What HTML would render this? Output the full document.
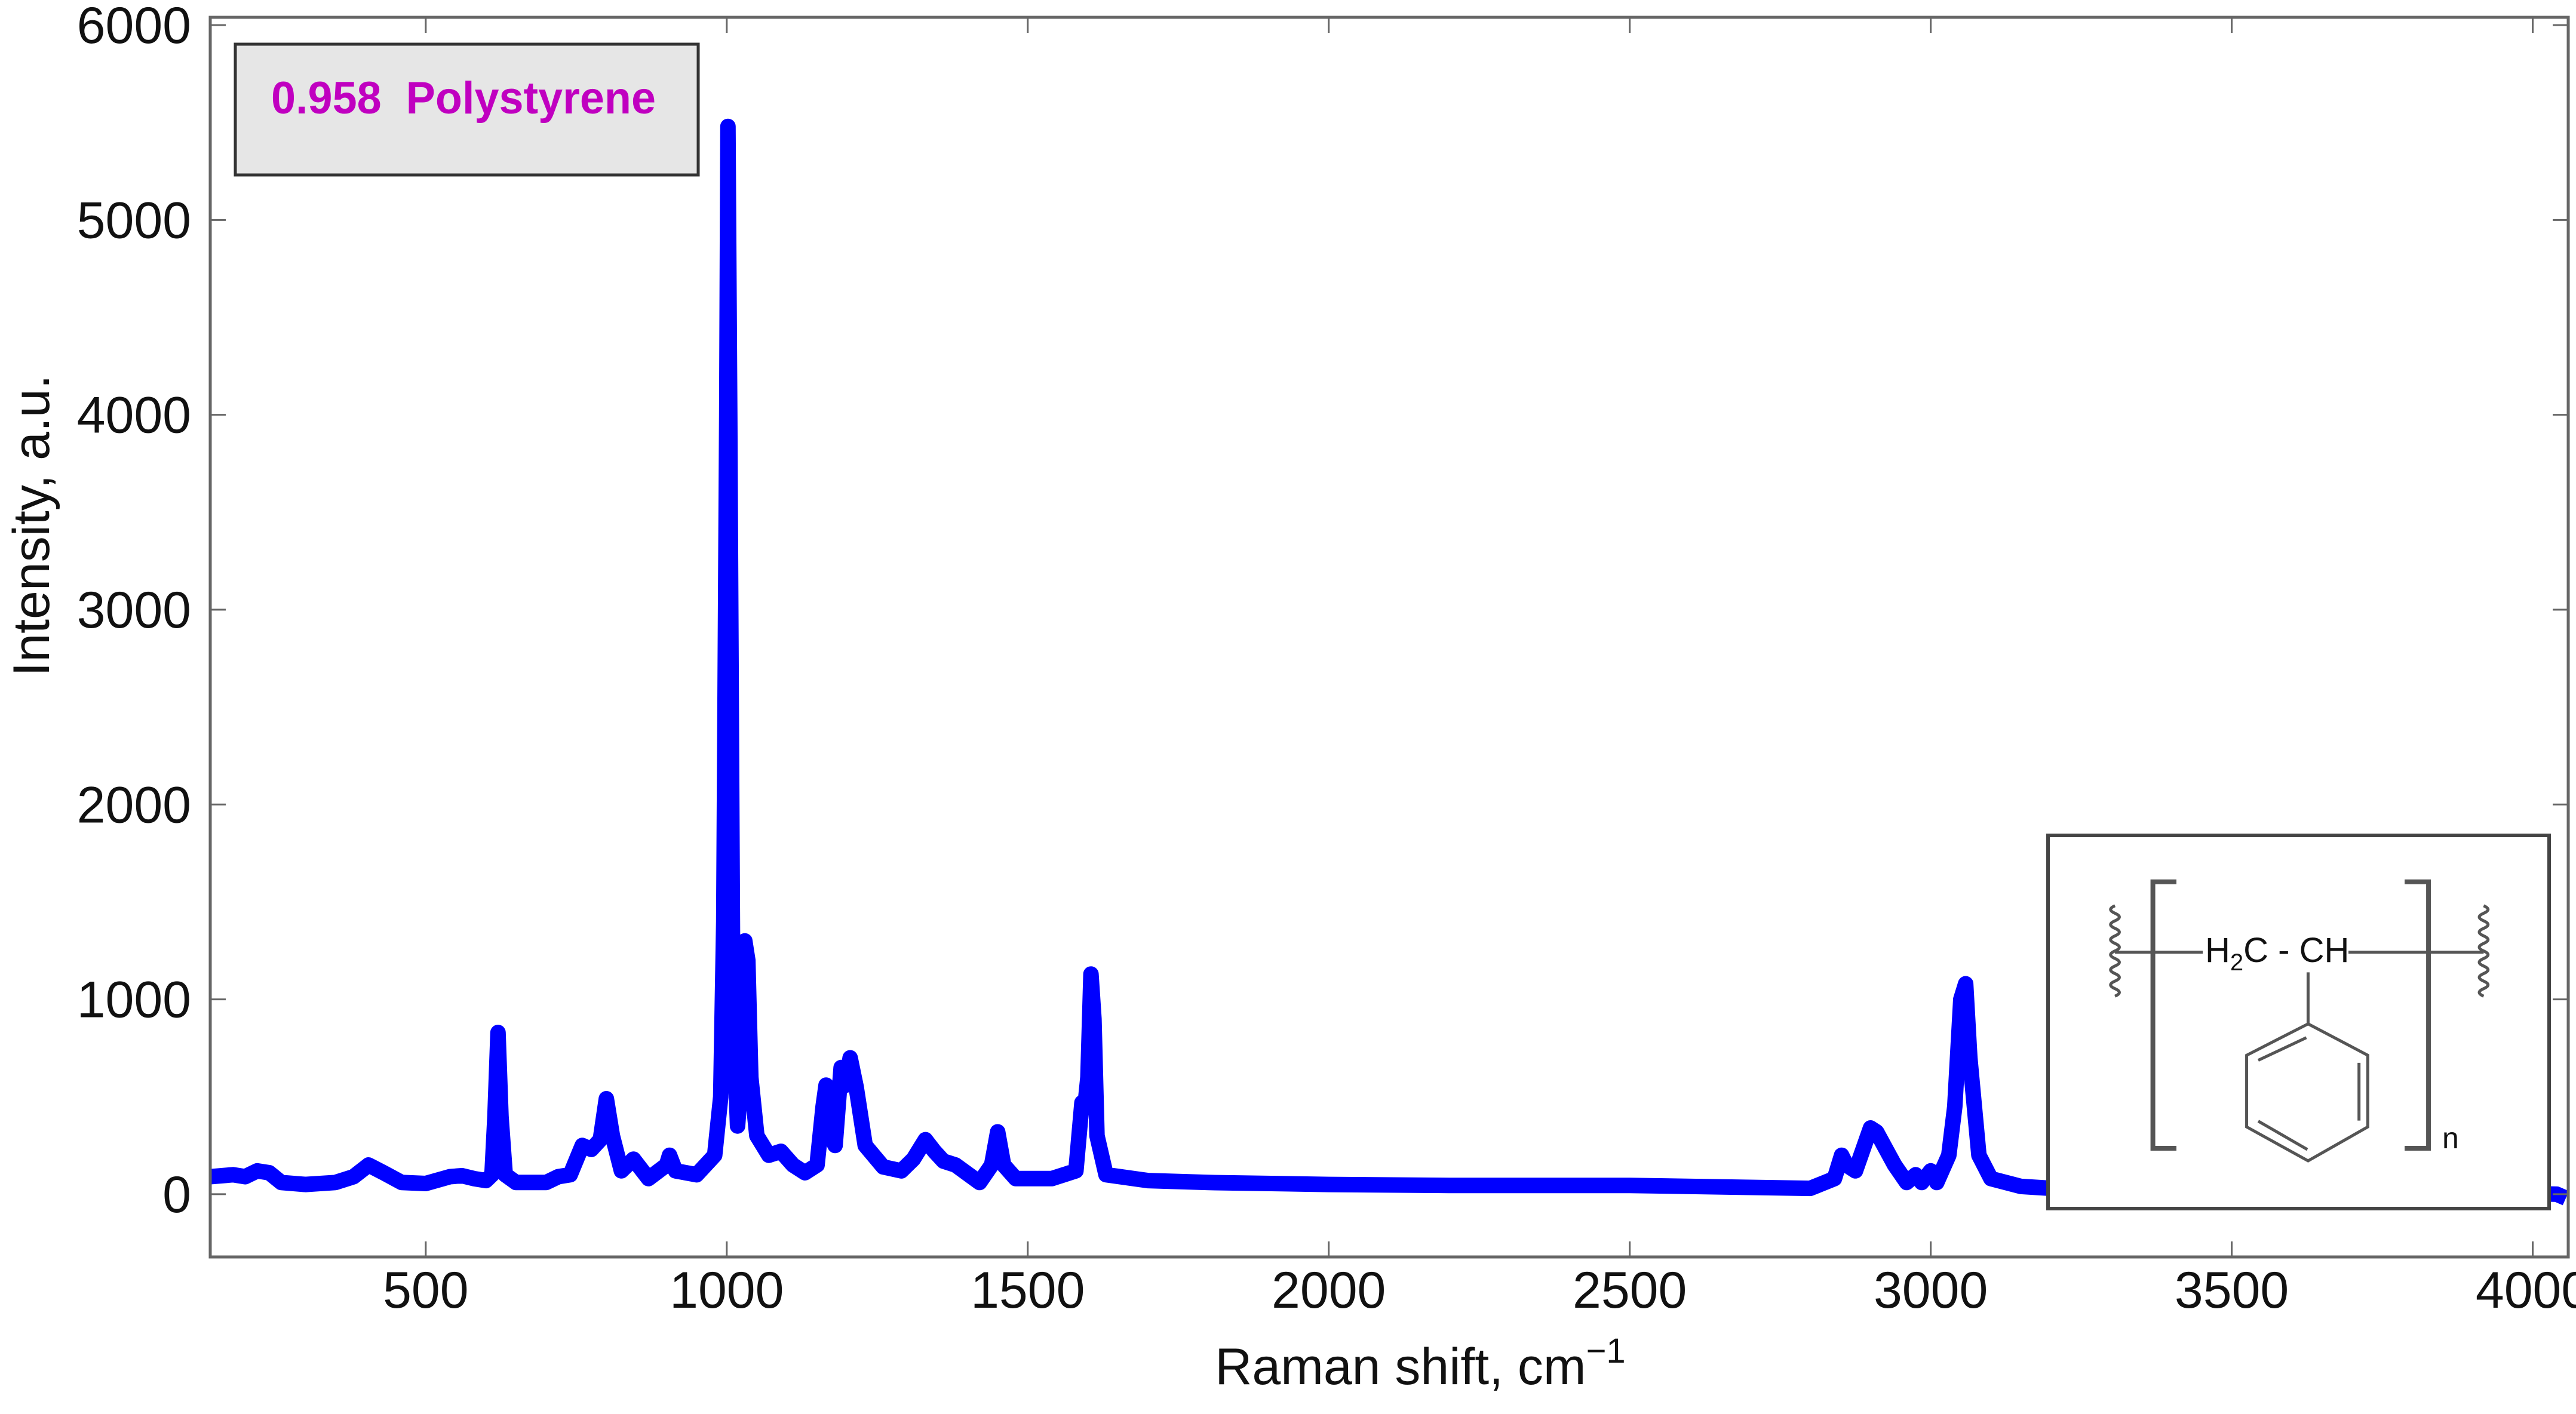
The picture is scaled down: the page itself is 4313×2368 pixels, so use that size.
<!DOCTYPE html>
<html><head><meta charset="utf-8"><style>
html,body{margin:0;padding:0;background:#fff;}
svg text{font-family:"Liberation Sans",Arial,sans-serif;}
</style></head><body>
<svg id="chart" width="4313" height="2363" viewBox="0 0 4313 2363" xmlns="http://www.w3.org/2000/svg">
<rect x="0" y="0" width="4313" height="2363" fill="#fff"/>
<g id="plot"></g>
<g id="axes"></g>
<g>
<rect x="394" y="74" width="775" height="219" fill="#e6e6e6" stroke="#333" stroke-width="5"/>
<text x="454" y="190" font-size="76" font-weight="bold" fill="#c000c0" textLength="644" lengthAdjust="spacingAndGlyphs">0.958&#160;&#160;Polystyrene</text>
</g>
<g>
<rect x="3429" y="1399" width="839" height="625" fill="#fff" stroke="#444" stroke-width="6"/>
<svg x="3400" y="1380" width="913" height="660" viewBox="0 0 1553 1568" preserveAspectRatio="none">
<g fill="none" stroke="#555" stroke-width="5">
<path d="M415 230 H348 V1290 H415" vector-effect="non-scaling-stroke" stroke-width="8"/>
<path d="M1065 230 H1133 V1290 H1065" vector-effect="non-scaling-stroke" stroke-width="8"/>
<path d="M240 510 H490 M905 510 H1290" vector-effect="non-scaling-stroke"/>
<path d="M790 590 V795" vector-effect="non-scaling-stroke"/>
<path d="M790 795 L960 920 L960 1205 L790 1340 L615 1205 L615 920 Z" vector-effect="non-scaling-stroke"/>
<path d="M648 940 L785 850 M935 950 L935 1180 M648 1182 L788 1295" vector-effect="non-scaling-stroke"/>
<path d="M240 325 q-25 15 0 30 q25 15 0 30 q-25 15 0 30 q25 15 0 30 q-25 15 0 30 q25 15 0 30 q-25 15 0 30 q25 15 0 30 q-25 15 0 30 q25 15 0 30 q-25 15 0 30 q25 15 0 30" vector-effect="non-scaling-stroke"/>
<path d="M1290 325 q25 15 0 30 q-25 15 0 30 q25 15 0 30 q-25 15 0 30 q25 15 0 30 q-25 15 0 30 q25 15 0 30 q-25 15 0 30 q25 15 0 30 q-25 15 0 30 q25 15 0 30 q-25 15 0 30" vector-effect="non-scaling-stroke"/>
</g>
</svg>
<text x="3692" y="1611" font-size="58" fill="#111" xml:space="preserve">H<tspan font-size="40" dy="14">2</tspan><tspan dy="-14">C - CH</tspan></text>
<text x="4089" y="1923" font-size="50" fill="#111">n</text>
</g>
<text x="2378" y="2318" font-size="86" text-anchor="middle" fill="#111">Raman shift, cm<tspan font-size="58" dy="-36">−1</tspan></text>
<text transform="translate(82,880) rotate(-90)" font-size="86" text-anchor="middle" fill="#111">Intensity, a.u.</text>
</svg>
<script>
const wavenumbers = [142,180,200,220,240,260,300,350,380,405,430,460,500,540,560,580,600,610,615,620,625,632,650,700,720,740,760,775,790,800,810,825,845,870,900,905,915,950,980,990,995,1000,1002,1005,1010,1018,1024,1030,1035,1040,1050,1070,1090,1110,1130,1150,1160,1165,1172,1180,1190,1198,1205,1215,1230,1260,1290,1310,1330,1345,1360,1380,1420,1440,1450,1460,1480,1540,1580,1590,1595,1600,1605,1610,1615,1630,1700,1800,2000,2200,2500,2700,2800,2840,2852,2860,2875,2900,2910,2940,2960,2975,2985,3000,3010,3030,3040,3050,3058,3065,3080,3100,3150,3200,3220,3300,3600,3900,4040,4055];
const intensities = [90,100,90,120,110,60,50,60,90,150,110,60,55,90,95,80,70,100,400,830,400,100,60,60,90,100,250,230,280,490,300,120,180,80,150,200,120,100,200,500,1400,4000,5480,4000,1000,350,600,1300,1200,600,300,200,220,150,110,150,450,560,300,250,650,560,700,550,250,140,120,180,280,220,170,150,60,150,320,150,80,80,120,470,450,600,1130,900,300,100,70,60,50,45,45,35,30,80,200,150,120,340,320,150,60,100,60,120,60,200,450,1000,1080,700,200,80,40,30,20,20,20,10,0,-20];
const xTicks = [500,1000,1500,2000,2500,3000,3500,4000];
const yTicks = [0,1000,2000,3000,4000,5000,6000];
const X0=352,X1=4300,Y0=29,Y1=2105;
const xMin=142,xMax=4059,yMin=-322,yMax=6040;
function xs(v){return X0+(v-xMin)/(xMax-xMin)*(X1-X0);}
function ys(v){return Y1-(v-yMin)/(yMax-yMin)*(Y1-Y0);}
const NS="http://www.w3.org/2000/svg";
const plot=document.getElementById('plot'), axes=document.getElementById('axes');
let d='';
for(let i=0;i<wavenumbers.length;i++){d+=(i?'L':'M')+xs(wavenumbers[i]).toFixed(1)+' '+ys(intensities[i]).toFixed(1);}
const line=document.createElementNS(NS,'path');
line.setAttribute('d',d);line.setAttribute('fill','none');line.setAttribute('stroke','#0000ff');
line.setAttribute('stroke-width','26');line.setAttribute('stroke-linejoin','round');


plot.appendChild(line);
const frame=document.createElementNS(NS,'rect');
frame.setAttribute('x',X0);frame.setAttribute('y',Y0);frame.setAttribute('width',X1-X0);frame.setAttribute('height',Y1-Y0);
frame.setAttribute('fill','none');frame.setAttribute('stroke','#666');frame.setAttribute('stroke-width','5');


axes.appendChild(frame);
xTicks.forEach(t=>{
  const x=xs(t);
  const tk=document.createElementNS(NS,'path');
  tk.setAttribute('d',`M${x} ${Y1} v-26 M${x} ${Y0} v26`);tk.setAttribute('stroke','#666');tk.setAttribute('stroke-width','3');
  
  
  axes.appendChild(tk);
  const lb=document.createElementNS(NS,'text');
  lb.setAttribute('x',x);lb.setAttribute('y',2190);lb.setAttribute('font-size','86');lb.setAttribute('text-anchor','middle');lb.setAttribute('fill','#111');
  lb.textContent=t;
  
  
  axes.appendChild(lb);
});
yTicks.forEach(t=>{
  const y=ys(t);
  const tk=document.createElementNS(NS,'path');
  tk.setAttribute('d',`M${X0} ${y} h26 M${X1} ${y} h-26`);tk.setAttribute('stroke','#666');tk.setAttribute('stroke-width','3');
  
  
  axes.appendChild(tk);
  const lb=document.createElementNS(NS,'text');
  lb.setAttribute('x',320);lb.setAttribute('y',y+30);lb.setAttribute('font-size','86');lb.setAttribute('text-anchor','end');lb.setAttribute('fill','#111');
  lb.textContent=t;
  
  
  axes.appendChild(lb);
});
</script>
</body></html>
